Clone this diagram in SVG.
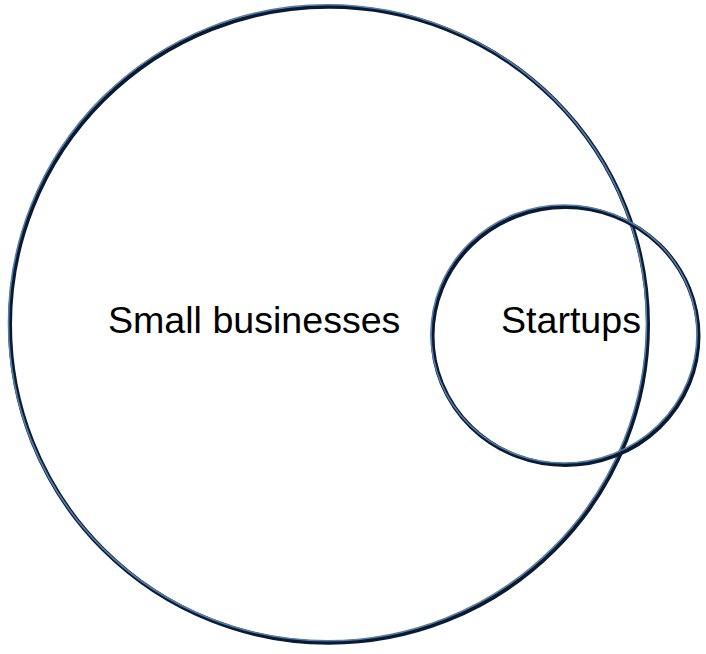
<svg xmlns="http://www.w3.org/2000/svg" width="706" height="654" viewBox="0 0 706 654">
<style>
.sh{fill:none;stroke:#0e1a2b;stroke-width:4}
.ln{fill:none;stroke:#4f7fb3;stroke-width:1.6}
.lbl{font-family:"Liberation Sans",Arial,sans-serif;font-size:37.6px;fill:#000}
</style>
<rect width="706" height="654" fill="#fff"/>
<g id="small-businesses">
<ellipse class="sh" cx="329" cy="324.8" rx="319" ry="318"/>
<ellipse class="ln" cx="327.5" cy="322.8" rx="319" ry="318"/>
<text class="lbl" x="108" y="333">Small businesses</text>
</g>
<g id="startups">
<ellipse class="sh" cx="565.5" cy="336" rx="133" ry="129"/>
<ellipse class="ln" cx="564" cy="334" rx="133" ry="129"/>
<text class="lbl" x="501" y="333">Startups</text>
</g>
<g id="connectors"/>
</svg>
